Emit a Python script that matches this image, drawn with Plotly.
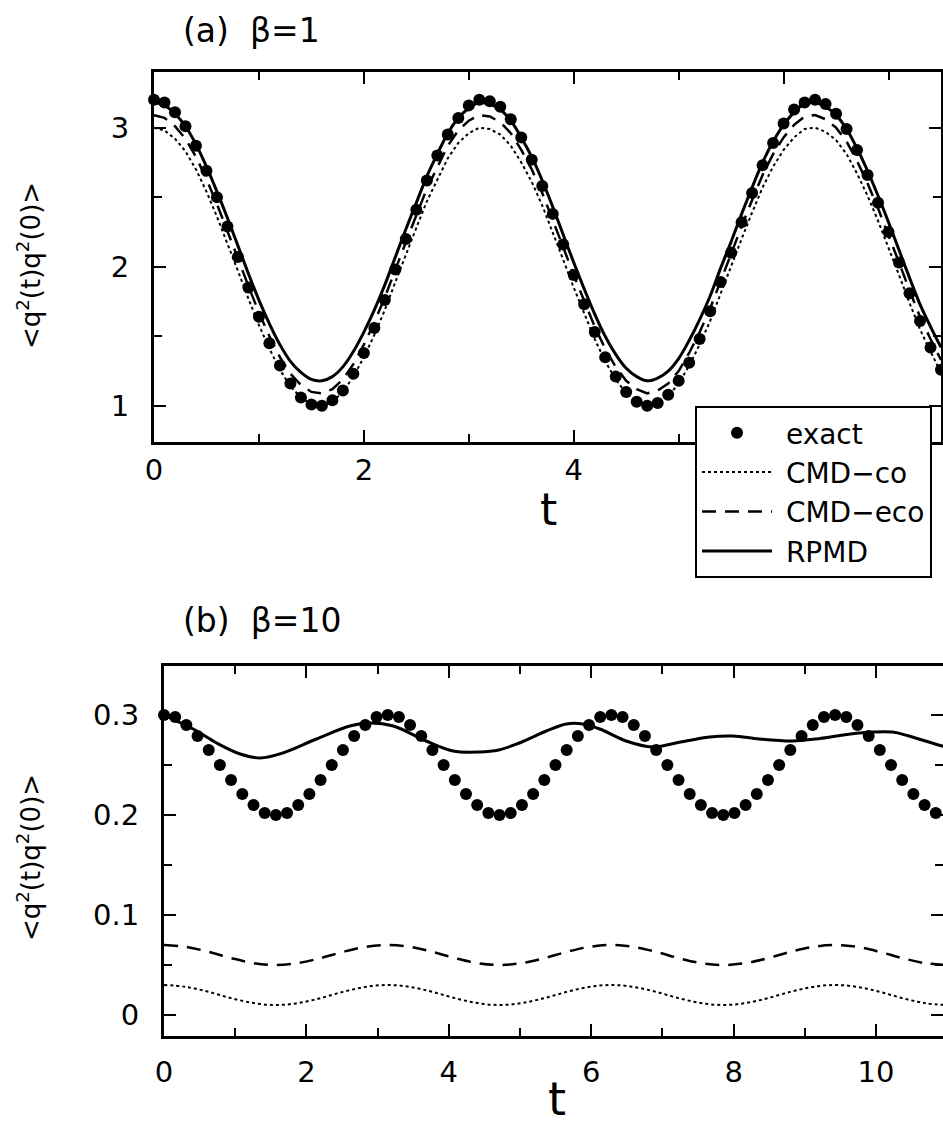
import plotly.graph_objects as go

FONT = "DejaVu Sans, Liberation Sans, Arial, sans-serif"

# ---------------- panel (a) beta = 1 ----------------
t_a = [0.0, 0.1, 0.2, 0.3, 0.4, 0.5, 0.6, 0.7, 0.8, 0.9,
       1.0, 1.1, 1.2, 1.3, 1.4, 1.5, 1.6, 1.7, 1.8, 1.9,
       2.0, 2.1, 2.2, 2.3, 2.4, 2.5, 2.6, 2.7, 2.8, 2.9,
       3.0, 3.1, 3.2, 3.3, 3.4, 3.5, 3.6, 3.7, 3.8, 3.9,
       4.0, 4.1, 4.2, 4.3, 4.4, 4.5, 4.6, 4.7, 4.8, 4.9,
       5.0, 5.1, 5.2, 5.3, 5.4, 5.5, 5.6, 5.7, 5.8, 5.9,
       6.0, 6.1, 6.2, 6.3, 6.4, 6.5, 6.6, 6.7, 6.8, 6.9,
       7.0, 7.1, 7.2, 7.3, 7.4, 7.5]

exact_a = [3.20, 3.18, 3.11, 3.01, 2.87, 2.69, 2.50, 2.29, 2.07, 1.85,
           1.64, 1.45, 1.29, 1.16, 1.06, 1.01, 1.00, 1.04, 1.11, 1.23,
           1.38, 1.56, 1.76, 1.98, 2.20, 2.41, 2.62, 2.80, 2.95, 3.07,
           3.16, 3.20, 3.19, 3.15, 3.06, 2.93, 2.77, 2.58, 2.38, 2.16,
           1.94, 1.73, 1.53, 1.35, 1.21, 1.10, 1.03, 1.00, 1.02, 1.08,
           1.18, 1.31, 1.48, 1.68, 1.89, 2.10, 2.32, 2.53, 2.73, 2.89,
           3.03, 3.13, 3.18, 3.20, 3.17, 3.10, 2.99, 2.84, 2.66, 2.46,
           2.25, 2.03, 1.81, 1.61, 1.42, 1.26]

cmdco_a = [3.00, 2.98, 2.92, 2.83, 2.70, 2.54, 2.36, 2.17, 1.97, 1.77,
           1.58, 1.41, 1.26, 1.14, 1.06, 1.01, 1.00, 1.03, 1.10, 1.21,
           1.35, 1.51, 1.69, 1.89, 2.09, 2.28, 2.47, 2.63, 2.78, 2.89,
           2.96, 3.00, 2.99, 2.95, 2.87, 2.75, 2.61, 2.44, 2.25, 2.05,
           1.85, 1.66, 1.48, 1.32, 1.19, 1.09, 1.03, 1.00, 1.02, 1.07,
           1.16, 1.29, 1.44, 1.61, 1.81, 2.00, 2.20, 2.39, 2.57, 2.72,
           2.84, 2.93, 2.99, 3.00, 2.97, 2.91, 2.81, 2.67, 2.51, 2.33,
           2.14, 1.94, 1.74, 1.55, 1.39, 1.24]

cmdeco_a = [3.09, 3.07, 3.01, 2.92, 2.79, 2.63, 2.45, 2.26, 2.06, 1.86,
            1.67, 1.50, 1.35, 1.23, 1.15, 1.10, 1.09, 1.12, 1.19, 1.30,
            1.44, 1.60, 1.78, 1.98, 2.18, 2.37, 2.56, 2.72, 2.87, 2.98,
            3.05, 3.09, 3.08, 3.04, 2.96, 2.84, 2.70, 2.53, 2.34, 2.14,
            1.94, 1.75, 1.57, 1.41, 1.28, 1.18, 1.12, 1.09, 1.11, 1.16,
            1.25, 1.38, 1.53, 1.70, 1.90, 2.09, 2.29, 2.48, 2.66, 2.81,
            2.93, 3.02, 3.08, 3.09, 3.06, 3.00, 2.90, 2.76, 2.60, 2.42,
            2.23, 2.03, 1.83, 1.64, 1.48, 1.33]

rpmd_a = [3.18, 3.16, 3.10, 3.01, 2.88, 2.72, 2.54, 2.35, 2.15, 1.95,
          1.76, 1.59, 1.44, 1.32, 1.24, 1.19, 1.18, 1.21, 1.28, 1.39,
          1.53, 1.69, 1.87, 2.07, 2.27, 2.46, 2.65, 2.81, 2.96, 3.07,
          3.14, 3.18, 3.17, 3.13, 3.05, 2.93, 2.79, 2.62, 2.43, 2.23,
          2.03, 1.84, 1.66, 1.50, 1.37, 1.27, 1.21, 1.18, 1.20, 1.25,
          1.34, 1.47, 1.62, 1.79, 1.99, 2.18, 2.38, 2.57, 2.75, 2.90,
          3.02, 3.11, 3.17, 3.18, 3.15, 3.09, 2.99, 2.85, 2.69, 2.51,
          2.32, 2.12, 1.92, 1.73, 1.57, 1.42]

# ---------------- panel (b) beta = 10 ----------------
t_b = [0.000, 0.157, 0.314, 0.471, 0.628, 0.785, 0.942, 1.100, 1.257, 1.414,
       1.571, 1.728, 1.885, 2.042, 2.199, 2.356, 2.513, 2.670, 2.827, 2.985,
       3.142, 3.299, 3.456, 3.613, 3.770, 3.927, 4.084, 4.241, 4.398, 4.555,
       4.712, 4.869, 5.027, 5.184, 5.341, 5.498, 5.655, 5.812, 5.969, 6.126,
       6.283, 6.440, 6.597, 6.754, 6.912, 7.069, 7.226, 7.383, 7.540, 7.697,
       7.854, 8.011, 8.168, 8.325, 8.482, 8.639, 8.796, 8.954, 9.111, 9.268,
       9.425, 9.582, 9.739, 9.896, 10.053, 10.210, 10.367, 10.524, 10.681, 10.838]

exact_b = [0.300, 0.298, 0.290, 0.279, 0.265, 0.250, 0.235, 0.221, 0.210, 0.202,
           0.200, 0.202, 0.210, 0.221, 0.235, 0.250, 0.265, 0.279, 0.290, 0.298,
           0.300, 0.298, 0.290, 0.279, 0.265, 0.250, 0.235, 0.221, 0.210, 0.202,
           0.200, 0.202, 0.210, 0.221, 0.235, 0.250, 0.265, 0.279, 0.290, 0.298,
           0.300, 0.298, 0.290, 0.279, 0.265, 0.250, 0.235, 0.221, 0.210, 0.202,
           0.200, 0.202, 0.210, 0.221, 0.235, 0.250, 0.265, 0.279, 0.290, 0.298,
           0.300, 0.298, 0.290, 0.279, 0.265, 0.250, 0.235, 0.221, 0.210, 0.202]

t_b_lines = [0.000, 0.314, 0.628, 0.942, 1.257, 1.571, 1.885, 2.199, 2.513, 2.827,
             3.142, 3.456, 3.770, 4.084, 4.398, 4.712, 5.027, 5.341, 5.655, 5.969,
             6.283, 6.597, 6.912, 7.226, 7.540, 7.854, 8.168, 8.482, 8.796, 9.111,
             9.425, 9.739, 10.053, 10.367, 10.681, 10.996]

cmdco_b = [0.0300, 0.0281, 0.0231, 0.0169, 0.0119, 0.0100, 0.0119, 0.0169, 0.0231, 0.0281,
           0.0300, 0.0281, 0.0231, 0.0169, 0.0119, 0.0100, 0.0119, 0.0169, 0.0231, 0.0281,
           0.0300, 0.0281, 0.0231, 0.0169, 0.0119, 0.0100, 0.0119, 0.0169, 0.0231, 0.0281,
           0.0300, 0.0281, 0.0231, 0.0169, 0.0119, 0.0100]

cmdeco_b = [0.0700, 0.0681, 0.0631, 0.0569, 0.0519, 0.0500, 0.0519, 0.0569, 0.0631, 0.0681,
            0.0700, 0.0681, 0.0631, 0.0569, 0.0519, 0.0500, 0.0519, 0.0569, 0.0631, 0.0681,
            0.0700, 0.0681, 0.0631, 0.0569, 0.0519, 0.0500, 0.0519, 0.0569, 0.0631, 0.0681,
            0.0700, 0.0681, 0.0631, 0.0569, 0.0519, 0.0500]

t_rpmd_b = [0.00, 0.41, 0.74, 1.07, 1.35, 1.67, 2.14, 2.61, 2.89, 3.22,
            3.68, 4.06, 4.43, 4.70, 4.99, 5.37, 5.65, 5.88, 6.12, 6.49,
            6.86, 7.19, 7.66, 7.99, 8.36, 8.83, 9.15, 9.76, 10.23, 10.46,
            10.93, 11.00]
rpmd_b = [0.300, 0.286, 0.272, 0.261, 0.257, 0.262, 0.276, 0.289, 0.292, 0.289,
          0.274, 0.264, 0.263, 0.265, 0.272, 0.284, 0.291, 0.291, 0.286, 0.274,
          0.268, 0.272, 0.278, 0.279, 0.276, 0.274, 0.276, 0.282, 0.283, 0.279,
          0.269, 0.268]

legend_names = ["exact", "CMD\u2212co", "CMD\u2212eco", "RPMD"]

W, H = 943, 1127

fig = go.Figure()

dot_style = dict(color="black", width=2, dash="3px,3px")
dash_style = dict(color="black", width=2.5, dash="14px,9px")
solid_style = dict(color="black", width=3)
marker_style = dict(color="black", size=12)
pad = "\u00a0"

# panel (a)
fig.add_trace(go.Scatter(x=t_a, y=cmdco_a, mode="lines", name=pad + legend_names[1],
                         line=dot_style, xaxis="x", yaxis="y", legendrank=2))
fig.add_trace(go.Scatter(x=t_a, y=cmdeco_a, mode="lines", name=pad + legend_names[2],
                         line=dash_style, xaxis="x", yaxis="y", legendrank=3))
fig.add_trace(go.Scatter(x=t_a, y=rpmd_a, mode="lines", name=pad + legend_names[3],
                         line=solid_style, line_shape="spline", xaxis="x", yaxis="y", legendrank=4))
fig.add_trace(go.Scatter(x=t_a, y=exact_a, mode="markers", name=pad + legend_names[0],
                         marker=marker_style, cliponaxis=False, xaxis="x", yaxis="y", legendrank=1))

# panel (b)
fig.add_trace(go.Scatter(x=t_b_lines, y=cmdco_b, mode="lines", line=dot_style, line_shape="spline",
                         showlegend=False, xaxis="x2", yaxis="y2"))
fig.add_trace(go.Scatter(x=t_b_lines, y=cmdeco_b, mode="lines", line=dash_style, line_shape="spline",
                         showlegend=False, xaxis="x2", yaxis="y2"))
fig.add_trace(go.Scatter(x=t_rpmd_b, y=rpmd_b, mode="lines", line=solid_style, line_shape="spline",
                         showlegend=False, xaxis="x2", yaxis="y2"))
fig.add_trace(go.Scatter(x=t_b, y=exact_b, mode="markers", marker=marker_style, cliponaxis=False,
                         showlegend=False, xaxis="x2", yaxis="y2"))


def axis(**kw):
    d = dict(showline=True, linewidth=3, linecolor="black", mirror="allticks",
             ticks="inside", ticklen=12, tickwidth=2, tickcolor="black",
             showgrid=False, zeroline=False,
             tickfont=dict(size=29, color="black", family=FONT),
             minor=dict(ticks="inside", ticklen=8, tickwidth=2, tickcolor="black", showgrid=False))
    minor_dtick = kw.pop("minor_dtick")
    d["minor"]["dtick"] = minor_dtick
    d.update(kw)
    return d


fig.update_layout(
    width=W, height=H,
    margin=dict(l=0, r=0, t=0, b=0, autoexpand=False),
    paper_bgcolor="white", plot_bgcolor="white",
    font=dict(family=FONT, color="black", size=29),
    xaxis=axis(domain=[154 / W, 941 / W], range=[0, 7.5], tick0=0, dtick=2, minor_dtick=1,
               anchor="y", ticklabelstandoff=0),
    yaxis=axis(domain=[1 - 442 / H, 1 - 72 / H], range=[0.74, 3.40], tick0=0, dtick=1, minor_dtick=0.5,
               anchor="x", ticklabelstandoff=16),
    xaxis2=axis(domain=[164 / W, 1.0], range=[0, 10.94], tick0=0, dtick=2, minor_dtick=1,
                anchor="y2", ticklabelstandoff=8),
    yaxis2=axis(domain=[1 - 1036 / H, 1 - 666 / H], range=[-0.021, 0.349], tick0=0, dtick=0.1,
                minor_dtick=0.05, anchor="x2", ticklabelstandoff=16),
    legend=dict(x=695 / W, y=1 - 406 / H, xanchor="left", yanchor="top",
                bordercolor="black", borderwidth=2, bgcolor="white",
                font=dict(size=28, family=FONT, color="black"),
                itemwidth=70, traceorder="normal", tracegroupgap=0),
    showlegend=True,
)

ann = [
    dict(text="(a)\u00a0\u00a0\u03b2=1", x=181 / W, y=1 - 31 / H, xanchor="left", yanchor="middle",
         font=dict(size=33)),
    dict(text="(b)\u00a0\u00a0\u03b2=10", x=181 / W, y=1 - 621 / H, xanchor="left", yanchor="middle",
         font=dict(size=33)),
    dict(text="t", x=548 / W, y=1 - 509 / H, xanchor="center", yanchor="middle", font=dict(size=44)),
    dict(text="t", x=557 / W, y=1 - 1099 / H, xanchor="center", yanchor="middle", font=dict(size=46)),
    dict(text="&lt;q<sup>2</sup>(t)q<sup>2</sup>(0)&gt;", x=29 / W, y=1 - 266 / H, textangle=-90,
         xanchor="center", yanchor="middle", font=dict(size=26)),
    dict(text="&lt;q<sup>2</sup>(t)q<sup>2</sup>(0)&gt;", x=29 / W, y=1 - 858 / H, textangle=-90,
         xanchor="center", yanchor="middle", font=dict(size=26)),
]
for a in ann:
    a.update(xref="paper", yref="paper", showarrow=False)
fig.update_layout(annotations=ann)

fig.write_html("out.html",
               config={"displayModeBar": False},
               post_script="document.body.style.margin='0';document.body.style.padding='0';"
                           "document.documentElement.style.overflow='hidden';")
